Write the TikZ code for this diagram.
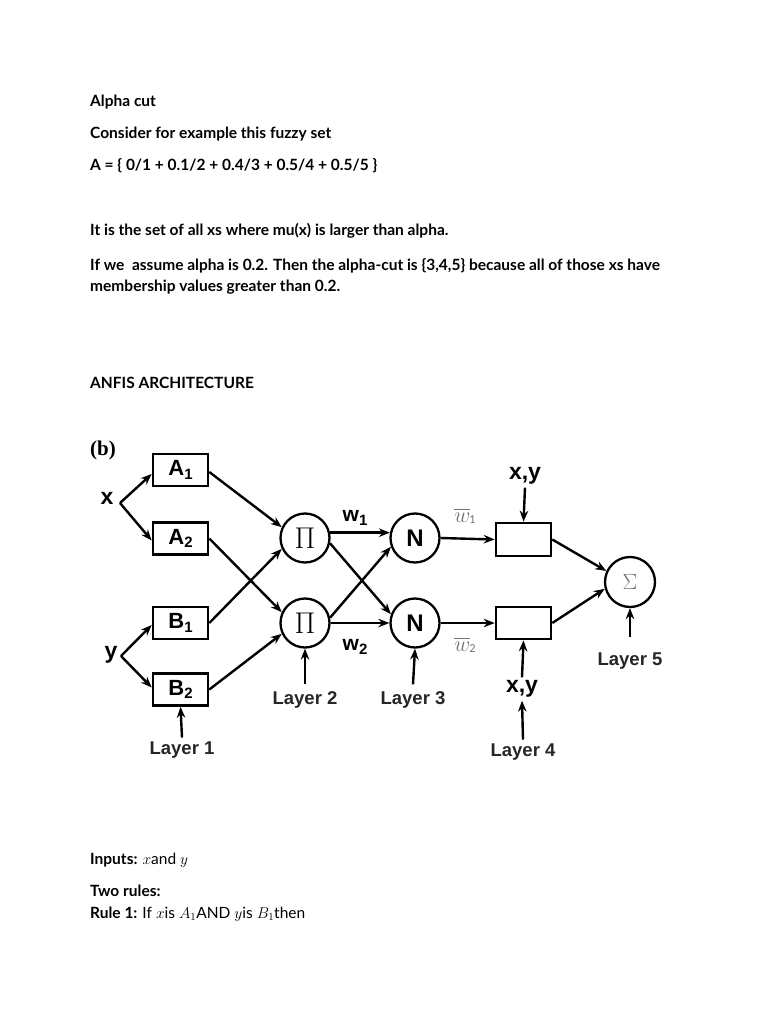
\documentclass[tikz,border=0pt]{standalone}
\usepackage{fix-cm}
\usepackage{fontspec}
\setmainfont{Lato}
\newfontfamily\arialf{Liberation Sans}
\newfontfamily\timesf{Liberation Serif}
\usetikzlibrary{arrows.meta}
\newcommand{\lowsub}[1]{\raisebox{-3.5pt}{\fontsize{15}{15}\selectfont #1}}
\begin{document}
\begin{tikzpicture}[x=1pt,y=-1pt,
 body/.style={anchor=base west,inner sep=0pt,font=\fontsize{15.5}{18}\selectfont\bfseries},
 box/.style={draw,line width=2.6pt,minimum width=55pt,minimum height=32pt,inner sep=0pt,font=\arialf\bfseries\fontsize{22}{24}\selectfont},
 op/.style={draw,circle,line width=2.3pt,minimum size=49pt,inner sep=0pt},
 con/.style={line width=2.4pt,-{Stealth[length=11pt,width=8.5pt]}},
 lab/.style={inner sep=0pt,font=\arialf\bfseries\fontsize{18.5}{20}\selectfont,text=black!85},
 blab/.style={inner sep=0pt,font=\arialf\bfseries\fontsize{23}{24}\selectfont},
 wlab/.style={inner sep=0pt,font=\arialf\bfseries\fontsize{21}{22}\selectfont},
 wbar/.style={inner sep=0pt,text=black!55,font=\fontsize{22}{24}\selectfont}]
\useasboundingbox[fill=white] (0,0) rectangle (768,1024);
% text
\node[body] (t1) at (90,107) {Alpha cut};
\node[body] (t2) at (90,139) {Consider for example this fuzzy set};
\node[body] (t3) at (90,171) {A = \{ 0/1 + 0.1/2 + 0.4/3 + 0.5/4 + 0.5/5 \}};
\node[body] (t4) at (90,236) {It is the set of all xs where mu(x) is larger than alpha.};
\node[body] (t5) at (90,270) {If we\ \ assume alpha is 0.2. Then the alpha-cut is \{3,4,5\} because all of those xs have};
\node[body] (t6) at (90,291) {membership values greater than 0.2.};
\node[body] (t7) at (90,388) {ANFIS ARCHITECTURE};
\node[body] (t8) at (90,864) {Inputs: \mdseries$x$and $y$};
\node[body] (t9) at (90,896) {Two rules:};
\node[body] (t10) at (90,918) {Rule 1: \mdseries If $x$is $A_1$AND $y$is $B_1$then};
% diagram
\node[inner sep=0pt,font=\timesf\bfseries\fontsize{21}{22}\selectfont] (b) at (103,450) {(b)};
\node[box] (A1) at (180.5,470) {A\lowsub{1}};
\node[box] (A2) at (180.5,538.5) {A\lowsub{2}};
\node[box] (B1) at (180.5,623) {B\lowsub{1}};
\node[box] (B2) at (180.5,689.5) {B\lowsub{2}};
\node[blab] (x) at (107,498) {x};
\coordinate (xb) at (120,503);
\node[blab] (y) at (111,655) {y};
\coordinate (yb) at (121,656);
\node[op] (P1) at (305,538) {\fontsize{30}{30}\selectfont$\Pi$};
\node[op] (P2) at (305,623) {\fontsize{30}{30}\selectfont$\Pi$};
\node[op] (N1) at (415,538) {\arialf\bfseries\fontsize{24}{24}\selectfont N};
\node[op] (N2) at (415,623) {\arialf\bfseries\fontsize{24}{24}\selectfont N};
\node[draw,line width=2.6pt,minimum width=55pt,minimum height=33pt,inner sep=0pt] (C1) at (523.5,539.5) {};
\node[draw,line width=2.6pt,minimum width=55pt,minimum height=32pt,inner sep=0pt] (C2) at (523.5,623) {};
\node[op,minimum size=50pt] (S) at (630,582) {\color{black!55}\fontsize{22}{22}\selectfont$\Sigma$};
\node[wlab] (w1) at (355,518) {w\lowsub{1}};
\node[wlab] (w2) at (355,647) {w\lowsub{2}};
\node[wbar] (wb1) at (465,516) {$\overline{\phantom{w}}$\llap{\raisebox{-3pt}{$w$}}\hspace{-1pt}\raisebox{-4pt}{\fontsize{11}{11}\selectfont 1}};
\node[wbar] (wb2) at (465,645) {$\overline{\phantom{w}}$\llap{\raisebox{-3pt}{$w$}}\hspace{-1pt}\raisebox{-4pt}{\fontsize{11}{11}\selectfont 2}};
\node[blab] (xy1) at (525,476) {x,y};
\node[blab] (xy2) at (522,689) {x,y};
\node[lab] (L1) at (182,750) {Layer 1};
\node[lab] (L2) at (305,700) {Layer 2};
\node[lab] (L3) at (413,700) {Layer 3};
\node[lab] (L4) at (523,752) {Layer 4};
\node[lab] (L5) at (630,661) {Layer 5};
% connectors
\draw[con] (xb) -- ([yshift=-4pt]A1.west);
\draw[con] (xb) -- ([yshift=-2pt]A2.west);
\draw[con] (yb) -- ([yshift=-2pt]B1.west);
\draw[con] (yb) -- ([yshift=2pt]B2.west);
\draw[con] ([yshift=-2pt]A1.east) -- (P1.155);
\draw[con] (A2.east) -- (P2.155);
\draw[con] (B1.east) -- (P1.205);
\draw[con] (B2.east) -- (P2.205);
\draw[con] (P1.12) -- (N1.168);
\draw[con] (P1.-12) -- (N2.160);
\draw[con] (P2.12) -- (N1.200);
\draw[con] (P2.east) -- (N2.west);
\draw[con] (N1.east) -- (C1.west);
\draw[con] (N2.east) -- (C2.west);
\draw[con] (C1.east) -- (S.155);
\draw[con] (C2.east) -- (S.195);
\draw[con] ([yshift=-3pt]xy1.south) -- (C1.north);
\draw[con] ([yshift=3pt]xy2.north) -- (C2.south);
\draw[con] ([yshift=4pt]L4.north) -- ([yshift=-3pt]xy2.south);
\draw[con] ([yshift=4pt]L1.north) -- (B2.south);
\draw[con] ([yshift=7pt]L2.north) -- (P2.south);
\draw[con] ([yshift=7pt]L3.north) -- (N2.south);
\draw[con] ([yshift=16pt]L5.north) -- (S.south);
\end{tikzpicture}
\end{document}
